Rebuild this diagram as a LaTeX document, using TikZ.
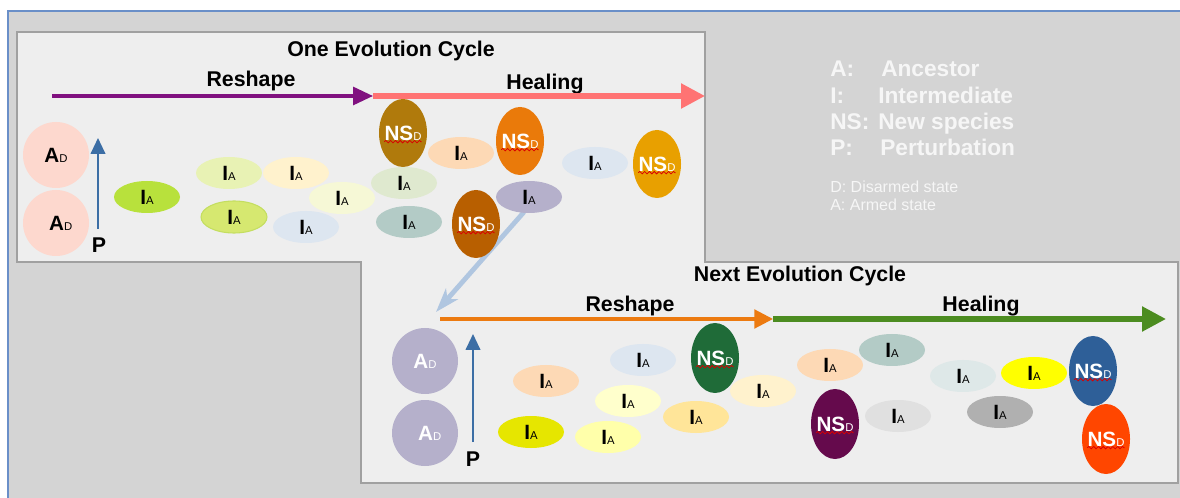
\documentclass[tikz,border=0pt]{standalone}
\usepackage{fontspec}
\setmainfont{Liberation Sans}
\usetikzlibrary{arrows.meta,shapes.geometric,decorations.pathmorphing}
\definecolor{bggrey}{HTML}{D4D4D4}
\definecolor{panelfill}{HTML}{EEEEEE}
\definecolor{panelline}{HTML}{A0A0A0}
\definecolor{frameblue}{HTML}{6A8FC8}
\definecolor{rpurple}{HTML}{80107F}
\definecolor{hpink}{HTML}{FF7373}
\definecolor{rorange}{HTML}{EC7A10}
\definecolor{hgreen}{HTML}{4C8C20}
\definecolor{pblue}{HTML}{3C6EA5}
\definecolor{dblue}{HTML}{B0C6E0}
\definecolor{apink}{HTML}{FDD8CE}
\definecolor{alav}{HTML}{B5B0CB}
\definecolor{legwhite}{HTML}{F6F6F6}
\definecolor{cLime}{RGB}{184,225,60}
\definecolor{cPaleLime}{RGB}{232,242,180}
\definecolor{cCream}{RGB}{255,242,205}
\definecolor{cPaleYel}{RGB}{246,248,214}
\definecolor{cLime2}{RGB}{214,232,112}
\definecolor{cLime2d}{RGB}{196,222,96}
\definecolor{cPaleBlue}{RGB}{221,230,240}
\definecolor{cBrown}{RGB}{176,122,12}
\definecolor{cPeach}{RGB}{253,217,181}
\definecolor{cOrange}{RGB}{234,122,10}
\definecolor{cPaleGreen}{RGB}{223,233,207}
\definecolor{cTeal}{RGB}{179,203,198}
\definecolor{cRust}{RGB}{184,95,0}
\definecolor{cLav}{RGB}{181,176,203}
\definecolor{cGold}{RGB}{232,160,0}
\definecolor{cYel1}{RGB}{230,230,0}
\definecolor{cYel2}{RGB}{255,255,204}
\definecolor{cYel3}{RGB}{255,255,170}
\definecolor{cGoldL}{RGB}{255,229,153}
\definecolor{cDGreen}{RGB}{31,107,56}
\definecolor{cPurple}{RGB}{101,10,76}
\definecolor{cLGrey}{RGB}{224,224,224}
\definecolor{cPaleTeal}{RGB}{222,232,232}
\definecolor{cYellow}{RGB}{255,255,0}
\definecolor{cGrey}{RGB}{176,176,176}
\definecolor{cBlue}{RGB}{46,95,152}
\definecolor{cRed}{RGB}{255,70,0}
\newcommand{\mylbl}[2]{{\fontsize{15.5}{15.5}\selectfont\bfseries #1}{\fontsize{8.5}{8.5}\selectfont #2}}
\tikzset{
  circ/.style={circle, inner sep=0pt, minimum size=49.5pt, draw=none},
  iell/.style={ellipse, inner sep=0pt, minimum width=49.5pt, minimum height=24pt, fill=#1, text=black},
  nsell/.style={ellipse, inner sep=0pt, minimum width=36pt, minimum height=51pt, fill=#1,
     path picture={\draw[red!85!black, line width=0.6pt, decorate, decoration={snake, amplitude=0.9pt, segment length=3.6pt}]
       ([xshift=-14pt,yshift=-6.5pt]path picture bounding box.center) -- ([xshift=14pt,yshift=-6.5pt]path picture bounding box.center);},
     label={[text=white, inner sep=0pt]center:\mylbl{NS}{D}}},
  ttl/.style={anchor=base, font=\fontsize{16}{16}\selectfont\bfseries, text=black, inner sep=0pt},
  legbig/.style={anchor=base west, font=\fontsize{17}{17}\selectfont\bfseries, text=legwhite, inner sep=0pt},
  legsmall/.style={anchor=base west, font=\fontsize{12}{12}\selectfont, text=legwhite, inner sep=0pt},
  plbl/.style={anchor=base, font=\fontsize{16}{16}\selectfont\bfseries, text=black, inner sep=0pt},
}
\begin{document}
\begin{tikzpicture}[x=0.75pt, y=-0.75pt]
\useasboundingbox (0,0) rectangle (1180,498);
\fill[white] (0,0) rectangle (1180,498);
\fill[bggrey] (8,11) rectangle (1180,498);
\draw[frameblue, line width=1.6pt] (8,498) -- (8,11) -- (1180,11);
\draw[panelline, fill=panelfill, line width=1.2pt] (17,32) -- (705,32) -- (705,262) -- (1178,262) -- (1178,483) -- (361,483) -- (361,262) -- (17,262) -- cycle;

% coordinates for arrows
\coordinate (r1s) at (52,96);
\coordinate (r1e) at (373,96);
\coordinate (h1e) at (705,96);
\coordinate (p1s) at (98,229);
\coordinate (p1e) at (98,138);
\coordinate (d1) at (524,212);
\coordinate (d2) at (436,312);
\coordinate (r2s) at (440,319);
\coordinate (r2e) at (773,319);
\coordinate (h2e) at (1166,319);
\coordinate (p2s) at (473,442);
\coordinate (p2e) at (473,334);

% diagonal arrow (behind)
\draw[dblue, line width=3.6pt, -{Stealth[length=18pt, width=12pt, inset=5pt]}] (d1) -- (d2);

% titles and arrows, top
\node[ttl] (t1) at (391,57) {One Evolution Cycle};
\node[ttl] (rs1) at (251,87) {Reshape};
\node[ttl] (hl1) at (545,90) {Healing};
\draw[hpink, line width=4pt, -{Triangle[length=18pt, width=18pt]}] (r1e) -- (h1e);
\draw[rpurple, line width=2.3pt, -{Triangle[length=15pt, width=13.5pt]}] (r1s) -- (r1e);
\draw[pblue, line width=1.5pt, -{Triangle[length=12pt, width=11pt]}] (p1s) -- (p1e);
\node[plbl] (pp1) at (99,253) {P};

\node[circ, fill=apink] (a1) at (56,155) {\mylbl{A}{D}};
\node[circ, fill=apink] (a2) at (56,223) {\hspace{7pt}\mylbl{A}{D}};

\node[iell=cLime] (i1) at (147,197) {\mylbl{I}{A}};
\node[iell=cPaleLime] (i2) at (229,173) {\mylbl{I}{A}};
\node[iell=cCream] (i3) at (296,173) {\mylbl{I}{A}};
\node[iell=cPaleYel] (i4) at (342,198) {\mylbl{I}{A}};
\node[iell=cLime2, draw=cLime2d, line width=0.8pt] (i5) at (234,217) {\mylbl{I}{A}};
\node[iell=cPaleBlue] (i6) at (306,227) {\mylbl{I}{A}};
\node[nsell=cBrown] (n1) at (403,133) {};
\node[iell=cPeach] (i7) at (461,153) {\mylbl{I}{A}};
\node[nsell=cOrange] (n2) at (520,141) {};
\node[iell=cPaleGreen] (i8) at (404,183) {\mylbl{I}{A}};
\node[iell=cTeal] (i9) at (409,222) {\mylbl{I}{A}};
\node[nsell=cRust] (n3) at (476,224) {};
\node[iell=cLav] (i10) at (529,197) {\mylbl{I}{A}};
\node[iell=cPaleBlue] (i11) at (595,163) {\mylbl{I}{A}};
\node[nsell=cGold] (n4) at (657,164) {};

% legend
\node[legbig] (l1a) at (830,77) {A:};
\node[legbig] (l1b) at (881,77) {Ancestor};
\node[legbig] (l2a) at (830,104) {I:};
\node[legbig] (l2b) at (878,104) {Intermediate};
\node[legbig] (l3a) at (830,130) {NS:};
\node[legbig] (l3b) at (878,130) {New species};
\node[legbig] (l4a) at (830,156) {P:};
\node[legbig] (l4b) at (880,156) {Perturbation};
\node[legsmall] (l5) at (830,193) {D: Disarmed state};
\node[legsmall] (l6) at (830,211) {A: Armed state};

% bottom panel
\node[ttl] (t2) at (800,282) {Next Evolution Cycle};
\node[ttl] (rs2) at (630,312) {Reshape};
\node[ttl] (hl2) at (981,312) {Healing};
\draw[hgreen, line width=4pt, -{Triangle[length=18pt, width=18pt]}] (r2e) -- (h2e);
\draw[rorange, line width=2.3pt, -{Triangle[length=14pt, width=14pt]}] (r2s) -- (r2e);
\draw[pblue, line width=1.5pt, -{Triangle[length=12pt, width=11pt]}] (p2s) -- (p2e);
\node[plbl] (pp2) at (473,466) {P};

\node[circ, fill=alav, text=white] (b1) at (425,361) {\mylbl{A}{D}};
\node[circ, fill=alav, text=white] (b2) at (425,433) {\hspace{7pt}\mylbl{A}{D}};

\node[iell=cPeach] (j1) at (546,381) {\mylbl{I}{A}};
\node[iell=cYel1] (j2) at (531,432) {\mylbl{I}{A}};
\node[iell=cPaleBlue] (j3) at (643,360) {\mylbl{I}{A}};
\node[iell=cYel2] (j4) at (628,401) {\mylbl{I}{A}};
\node[iell=cYel3] (j5) at (608,437) {\mylbl{I}{A}};
\node[iell=cGoldL] (j6) at (696,417) {\mylbl{I}{A}};
\node[nsell=cDGreen, minimum height=52.5pt] (m1) at (715,358) {};
\node[iell=cCream] (j7) at (763,391) {\mylbl{I}{A}};
\node[iell=cPeach] (j8) at (830,365) {\mylbl{I}{A}};
\node[iell=cTeal] (j9) at (892,350) {\mylbl{I}{A}};
\node[nsell=cPurple, minimum height=52.5pt] (m2) at (835,424) {};
\node[iell=cLGrey] (j10) at (898,416) {\mylbl{I}{A}};
\node[iell=cPaleTeal] (j11) at (963,376) {\mylbl{I}{A}};
\node[iell=cYellow] (j12) at (1034,373) {\mylbl{I}{A}};
\node[iell=cGrey] (j13) at (1000,412) {\mylbl{I}{A}};
\node[nsell=cBlue, minimum height=52.5pt] (m3) at (1093,371) {};
\node[nsell=cRed, minimum height=52.5pt] (m4) at (1106,439) {};
\end{tikzpicture}
\end{document}
